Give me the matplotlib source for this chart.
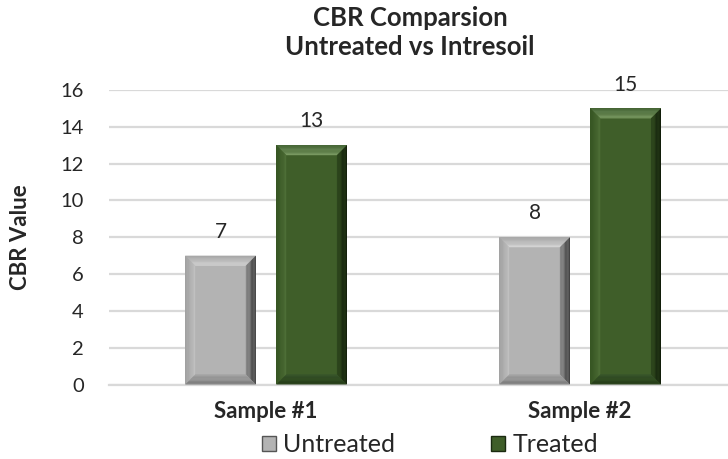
import matplotlib.pyplot as plt
import numpy as np
from matplotlib.patches import Polygon, Patch
from matplotlib.colors import to_rgb

samples = ["Sample #1", "Sample #2"]
untreated = [7, 8]
treated = [13, 15]
yticks = [0, 2, 4, 6, 8, 10, 12, 14, 16]

plt.rcParams['font.family'] = ['Lato', 'DejaVu Sans']

W, H = 728, 459
fig = plt.figure(figsize=(W / 100, H / 100), dpi=100)
# area do gráfico em pixels
ax = fig.add_axes([109 / W, 74.5 / H, (728 - 109) / W, 294.5 / H])

x = np.arange(len(samples))
largura = 0.225
desloc = 0.145

# face, (topo externo, interno), (esq), (dir), (base)
cinza = {"face": "#b3b3b3", "topo": ("#a4a4a4", "#d6d6d6"), "esq": ("#9c9c9c", "#c2c2c2"),
         "dir": ("#2e2e2e", "#8c8c8c"), "base": ("#787878", "#a2a2a2")}
verde = {"face": "#3f5e29", "topo": ("#48683a", "#7b9b63"), "esq": ("#33511f", "#4f7038"),
         "dir": ("#0d1707", "#2e481d"), "base": ("#233a15", "#36532a")}


def mistura(c1, c2, t):
    a, b = np.array(to_rgb(c1)), np.array(to_rgb(c2))
    return tuple(a + (b - a) * t)


def barras_chanfradas(pos, valores, cores, n=8):
    barras = ax.bar(pos, valores, width=largura, color=cores["face"], zorder=2)
    bx = 10 / 314  # chanfro em unidades de dados
    by = 10 / 18.4
    for b in barras:
        x0, y0 = b.get_x(), b.get_y()
        x1, y1 = x0 + b.get_width(), y0 + b.get_height()
        for k in range(n):
            t0, t1 = k / n, (k + 1) / n
            t = (k + 0.5) / n
            # topo
            pts = [(x0 + bx * t0, y1 - by * t0), (x1 - bx * t0, y1 - by * t0),
                   (x1 - bx * t1, y1 - by * t1), (x0 + bx * t1, y1 - by * t1)]
            ax.add_patch(Polygon(pts, facecolor=mistura(*cores["topo"], t), edgecolor='none', zorder=3))
            # esquerda
            pts = [(x0 + bx * t0, y0 + by * t0), (x0 + bx * t0, y1 - by * t0),
                   (x0 + bx * t1, y1 - by * t1), (x0 + bx * t1, y0 + by * t1)]
            ax.add_patch(Polygon(pts, facecolor=mistura(*cores["esq"], t), edgecolor='none', zorder=3))
            # direita
            pts = [(x1 - bx * t0, y0 + by * t0), (x1 - bx * t0, y1 - by * t0),
                   (x1 - bx * t1, y1 - by * t1), (x1 - bx * t1, y0 + by * t1)]
            ax.add_patch(Polygon(pts, facecolor=mistura(*cores["dir"], t), edgecolor='none', zorder=3))
            # base
            pts = [(x0 + bx * t0, y0 + by * t0), (x1 - bx * t0, y0 + by * t0),
                   (x1 - bx * t1, y0 + by * t1), (x0 + bx * t1, y0 + by * t1)]
            ax.add_patch(Polygon(pts, facecolor=mistura(*cores["base"], t), edgecolor='none', zorder=3))
        ax.text(b.get_x() + b.get_width() / 2, y1 + 0.75, f"{int(y1)}",
                ha='center', va='bottom', fontsize=15, color='#262626')
    return barras


barras_chanfradas(x - desloc, untreated, cinza)
barras_chanfradas(x + desloc, treated, verde)

ax.set_xlim(-0.5, 1.471)
ax.set_ylim(0, 16)
ax.set_yticks(yticks)
ax.set_xticks(x)
ax.set_xticklabels(samples, fontsize=16, fontweight='bold')
ax.tick_params(axis='y', length=0, pad=18, labelsize=14.5, labelcolor='#262626')
ax.tick_params(axis='x', length=0, pad=12, labelcolor='#262626')
ax.grid(axis='y', color='#d9d9d9', linewidth=1.6, zorder=0)
for s in ['top', 'right', 'left']:
    ax.spines[s].set_visible(False)
ax.spines['bottom'].set_color('#d9d9d9')
ax.spines['bottom'].set_linewidth(1.6)
ax.set_ylabel("CBR Value", fontsize=16, fontweight='bold', color='#262626')
ax.yaxis.set_label_coords(-78 / (728 - 109), 0.5)

fig.text(410 / W, 1 - 18 / H, "CBR Comparsion", ha='center', va='center',
         fontsize=18.5, fontweight='bold', color='#262626')
fig.text(410 / W, 1 - 47 / H, "Untreated vs Intresoil", ha='center', va='center',
         fontsize=18.5, fontweight='bold', color='#262626')

handles = [Patch(facecolor=cinza["face"], edgecolor="#555555", label="Untreated"),
           Patch(facecolor=verde["face"], edgecolor="#1a2a10", label="Treated")]
fig.legend(handles=handles, loc='center', bbox_to_anchor=(430 / W, 1 - 445 / H),
           ncol=2, frameon=False, fontsize=18, handlelength=0.55, handleheight=0.55,
           handletextpad=0.3, columnspacing=3.85, labelcolor='#262626')

fig.savefig("out.png", dpi=100)
